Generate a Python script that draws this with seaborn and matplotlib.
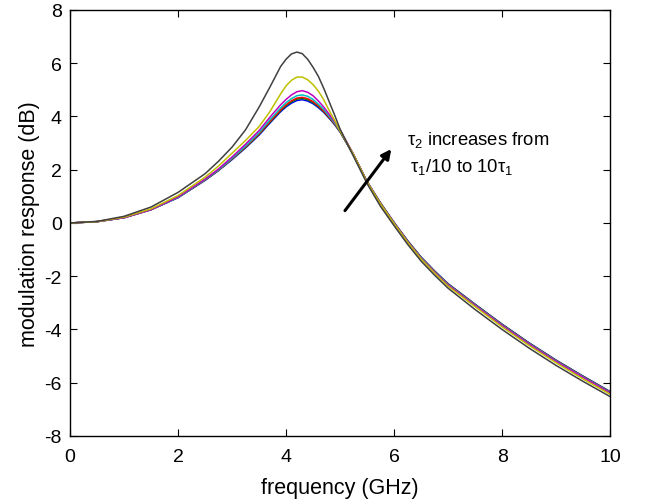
import numpy as np
import pandas as pd
import matplotlib
matplotlib.use("Agg")
import matplotlib.pyplot as plt
import seaborn as sns

# frequency grid (GHz)
freq = [0, 0.5, 1, 1.5, 2, 2.5, 2.75, 3, 3.25, 3.5, 3.7, 3.9, 4.0, 4.1, 4.2, 4.3, 4.4, 4.5,
        4.6, 4.7, 4.8, 4.9, 5.0, 5.25, 5.5, 5.75, 6, 6.25, 6.5, 6.75, 7, 7.5, 8, 8.5, 9, 9.5, 10]

# modulation response (dB), one curve per tau2 value
resp_b = [0, 0.05, 0.2, 0.5, 0.95, 1.6, 1.97, 2.38, 2.82, 3.3, 3.75, 4.18, 4.36, 4.5, 4.6, 4.63, 4.58, 4.48,
          4.33, 4.15, 3.93, 3.69, 3.42, 2.55, 1.55, 0.75, 0.02, -0.66, -1.28, -1.8, -2.28, -3.05, -3.8, -4.5, -5.15, -5.75, -6.33]
resp_g = [0, 0.05, 0.2, 0.5, 0.96, 1.61, 1.98, 2.4, 2.84, 3.33, 3.78, 4.22, 4.4, 4.55, 4.65, 4.68, 4.63, 4.52,
          4.37, 4.18, 3.95, 3.71, 3.43, 2.55, 1.55, 0.75, 0.01, -0.67, -1.29, -1.81, -2.29, -3.06, -3.81, -4.51, -5.16, -5.76, -6.34]
resp_r = [0, 0.05, 0.2, 0.5, 0.96, 1.62, 1.99, 2.41, 2.86, 3.35, 3.81, 4.25, 4.44, 4.59, 4.69, 4.72, 4.67, 4.56,
          4.4, 4.2, 3.97, 3.72, 3.44, 2.56, 1.55, 0.74, 0.01, -0.68, -1.3, -1.82, -2.3, -3.07, -3.82, -4.52, -5.17, -5.77, -6.35]
resp_c = [0, 0.05, 0.2, 0.5, 0.96, 1.63, 2.0, 2.43, 2.89, 3.39, 3.87, 4.32, 4.52, 4.67, 4.78, 4.81, 4.76, 4.64,
          4.46, 4.26, 4.01, 3.75, 3.46, 2.57, 1.55, 0.73, 0.0, -0.69, -1.31, -1.83, -2.31, -3.08, -3.83, -4.53, -5.18, -5.78, -6.36]
resp_m = [0, 0.05, 0.2, 0.5, 0.98, 1.65, 2.03, 2.48, 2.96, 3.47, 3.97, 4.44, 4.64, 4.81, 4.93, 4.97, 4.91, 4.78,
          4.58, 4.35, 4.08, 3.8, 3.5, 2.58, 1.55, 0.72, -0.01, -0.7, -1.33, -1.85, -2.33, -3.1, -3.85, -4.55, -5.2, -5.8, -6.38]
resp_y = [0, 0.05, 0.22, 0.53, 1.03, 1.72, 2.14, 2.62, 3.1, 3.62, 4.18, 4.85, 5.15, 5.36, 5.48, 5.48, 5.38, 5.2,
          4.95, 4.62, 4.22, 3.85, 3.47, 2.57, 1.54, 0.71, -0.02, -0.72, -1.35, -1.88, -2.37, -3.14, -3.9, -4.6, -5.25, -5.86, -6.43]
resp_k = [0, 0.06, 0.25, 0.6, 1.15, 1.85, 2.32, 2.85, 3.5, 4.35, 5.1, 5.88, 6.15, 6.35, 6.42, 6.36, 6.15, 5.85,
          5.5, 5.05, 4.55, 4.05, 3.53, 2.5, 1.48, 0.62, -0.1, -0.8, -1.43, -1.96, -2.45, -3.25, -4.0, -4.7, -5.35, -5.95, -6.52]

curve_names = ["b", "g", "r", "c", "m", "y", "k"]
curve_colors = [(0, 0, 1), (0, 0.5, 0), (1, 0, 0), (0, 0.75, 0.75),
                (0.75, 0, 0.75), (0.75, 0.75, 0), (0.25, 0.25, 0.25)]
curves = [resp_b, resp_g, resp_r, resp_c, resp_m, resp_y, resp_k]

rows = []
for name, vals in zip(curve_names, curves):
    for f, v in zip(freq, vals):
        rows.append({"freq": f, "resp": v, "curve": name})
df = pd.DataFrame(rows)

sns.set_style("ticks")
plt.rcParams["font.family"] = ["Liberation Sans", "DejaVu Sans"]
plt.rcParams["mathtext.fontset"] = "custom"
plt.rcParams["mathtext.rm"] = "Liberation Sans"
plt.rcParams["mathtext.it"] = "Liberation Sans"
plt.rcParams["axes.unicode_minus"] = False
plt.rcParams["text.color"] = "black"
plt.rcParams["axes.labelcolor"] = "black"

fig = plt.figure(figsize=(6.46, 5.02), dpi=100)
ax = fig.add_axes([0.1084, 0.1295, 0.836, 0.8486])

sns.lineplot(data=df, x="freq", y="resp", hue="curve", hue_order=curve_names,
             palette=curve_colors, linewidth=1.1, legend=False, ax=ax, sort=False)

ax.set_xlim(0, 10)
ax.set_ylim(-8, 8)
ax.set_xticks([0, 2, 4, 6, 8, 10])
ax.set_yticks([-8, -6, -4, -2, 0, 2, 4, 6, 8])
ax.tick_params(direction="in", length=5, width=0.8, top=True, right=True,
               labelsize=14, colors="black")
ax.tick_params(axis="x", pad=9)
ax.tick_params(axis="y", pad=6)
for s in ax.spines.values():
    s.set_visible(True)
    s.set_linewidth(1.0)
    s.set_color("black")
ax.set_xlabel("frequency (GHz)", fontsize=15.5, labelpad=8)
ax.set_ylabel("modulation response (dB)", fontsize=15.5, labelpad=3)

# arrow and note on tau2
ax.annotate("", xy=(5.98, 2.86), xytext=(5.06, 0.38),
            arrowprops=dict(arrowstyle="-|>", color="black", lw=2.2,
                            mutation_scale=14))
ax.text(6.24, 3.16, r"$\mathregular{\tau_2}$ increases from", fontsize=13.3, va="center")
ax.text(6.3, 2.14, r"$\mathregular{\tau_1}$/10 to 10$\mathregular{\tau_1}$", fontsize=13.3, va="center")

fig.savefig("out.png", dpi=100)
